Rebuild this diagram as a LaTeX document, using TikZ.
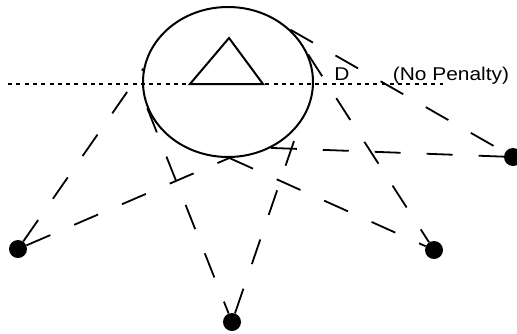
\documentclass[tikz,border=0pt]{standalone}
\usepackage{fontspec}
\setmainfont{Liberation Sans}
\usetikzlibrary{shapes.geometric}
\tikzset{
  dot/.style={circle,fill=black,inner sep=0pt,minimum size=18pt},
  conn/.style={line width=1.8pt,dash pattern=on 26pt off 26pt},
  guide/.style={line width=1.4pt,dash pattern=on 4pt off 4.3pt},
  lbl/.style={font=\fontsize{18.5}{20}\selectfont,inner sep=0pt,anchor=base,xscale=1.13},
  shape line/.style={line width=2pt},
}
\begin{document}
\begin{tikzpicture}[x=1pt,y=-1pt]
\useasboundingbox (0,0) rectangle (517,333);
% circle
\node[draw,shape line,ellipse,minimum width=170pt,minimum height=150pt,inner sep=0pt] (c) at (228,82) {};
% triangle
\coordinate (ta) at (229,38);
\coordinate (tl) at (190,84);
\coordinate (tr) at (263,84);
\draw[shape line,line join=miter] (ta) -- (tl) -- (tr) -- cycle;
% dotted horizon
\coordinate (hl) at (8,84);
\coordinate (hr) at (443,84);
\draw[guide] (hl) -- (hr);
% labels
\node[lbl] (d) at (342,80.5) {D};
\node[lbl] (np) at (451,80.5) {(No Penalty)};
% dots
\node[dot] (left) at (18,249) {};
\node[dot] (bottom) at (232,322) {};
\node[dot] (right) at (434,250) {};
\node[dot] (far) at (513,157) {};
% connectors
\draw[conn] (left) -- (c.171);
\draw[conn] (left) -- (c.271);
\draw[conn] (c.198) -- (bottom);
\draw[conn] (c.271) -- (right);
\draw[conn] (c.19) -- (right);
\draw[conn] (c.-57) -- (far);
\draw[conn] (c.40) -- (far);
\draw[conn] (bottom) -- (c.-30);
\end{tikzpicture}
\end{document}
